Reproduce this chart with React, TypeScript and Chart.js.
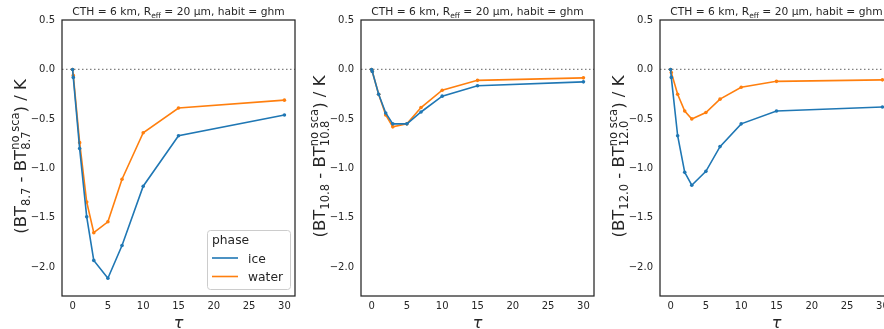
import React, { useEffect, useRef } from 'react';
import { Chart, registerables } from 'chart.js';

Chart.register(...registerables);

// ---- data ----
const TAU = [0, 0.1, 1, 2, 3, 5, 7, 10, 15, 30];

const ICE_87 = [0, -0.08, -0.8, -1.49, -1.93, -2.11, -1.78, -1.18, -0.67, -0.46];
const WATER_87 = [0, -0.06, -0.74, -1.34, -1.65, -1.54, -1.11, -0.64, -0.39, -0.31];

const ICE_108 = [0, -0.02, -0.25, -0.44, -0.55, -0.55, -0.43, -0.27, -0.165, -0.125];
const WATER_108 = [0, -0.02, -0.25, -0.46, -0.58, -0.55, -0.385, -0.21, -0.11, -0.085];

const ICE_120 = [0, -0.08, -0.67, -1.04, -1.17, -1.03, -0.78, -0.55, -0.42, -0.38];
const WATER_120 = [0, -0.03, -0.25, -0.42, -0.5, -0.435, -0.3, -0.18, -0.12, -0.105];

const X_TICKS = [0, 5, 10, 15, 20, 25, 30];
const Y_TICKS = [0.5, 0, -0.5, -1, -1.5, -2];
const X_MIN = -1.5;
const X_MAX = 31.5;
const Y_MIN = -2.29;
const Y_MAX = 0.5;

const BANDS = ['8.7', '10.8', '12.0'];
const SERIES_NAMES = ['ice', 'water'];
const LEGEND_TITLE = 'phase';
const TITLE_A = 'CTH = 6 km, R';
const TITLE_SUB = 'eff';
const TITLE_B = ' = 20 \u03bcm, habit = ghm';
const X_LABEL = '\u03c4';

// ---- style ----
const FONT = "'DejaVu Sans', sans-serif";
const INK = '#262626';
const ICE_COLOR = '#1f77b4';
const WATER_COLOR = '#ff7f0e';

const fmtY = (v: number) => {
  const s = Number(v).toFixed(1);
  return s.startsWith('-') ? '\u2212' + s.slice(1) : s;
};

function toPoints(ys: number[]) {
  return TAU.map((x, i) => ({ x, y: ys[i] }));
}

function drawPieces(ctx: CanvasRenderingContext2D, pieces: any[], x0: number, y0: number) {
  let x = x0;
  for (const p of pieces) {
    if (p.stack) {
      let w = 0;
      for (const s of p.stack) {
        ctx.font = `${s.size}px ${FONT}`;
        ctx.fillText(s.text, x, y0 + s.dy);
        w = Math.max(w, ctx.measureText(s.text).width);
      }
      x += w;
    } else {
      ctx.font = `${p.size}px ${FONT}`;
      ctx.fillText(p.text, x, y0 + p.dy);
      x += ctx.measureText(p.text).width;
    }
  }
}

function measurePieces(ctx: CanvasRenderingContext2D, pieces: any[]) {
  let w = 0;
  for (const p of pieces) {
    if (p.stack) {
      let m = 0;
      for (const s of p.stack) {
        ctx.font = `${s.size}px ${FONT}`;
        m = Math.max(m, ctx.measureText(s.text).width);
      }
      w += m;
    } else {
      ctx.font = `${p.size}px ${FONT}`;
      w += ctx.measureText(p.text).width;
    }
  }
  return w;
}

function Panel({ band, ice, water, legend, left }: { band: string; ice: number[]; water: number[]; legend: boolean; left: number }) {
  const ref = useRef<HTMLCanvasElement>(null);
  useEffect(() => {
    const deco = {
      id: 'deco',
      beforeDatasetsDraw(chart: any) {
        const { ctx, chartArea } = chart;
        const y0 = chart.scales.y.getPixelForValue(0);
        ctx.save();
        ctx.strokeStyle = '#808080';
        ctx.lineWidth = 1.2;
        ctx.setLineDash([1.5, 2.5]);
        ctx.beginPath();
        ctx.moveTo(chartArea.left, y0);
        ctx.lineTo(chartArea.right, y0);
        ctx.stroke();
        ctx.restore();
      },
      afterDraw(chart: any) {
        const { ctx, chartArea } = chart;
        const cx = (chartArea.left + chartArea.right) / 2;
        const cy = (chartArea.top + chartArea.bottom) / 2;
        ctx.save();
        // frame
        ctx.strokeStyle = INK;
        ctx.lineWidth = 1.25;
        ctx.strokeRect(chartArea.left, chartArea.top, chartArea.right - chartArea.left, chartArea.bottom - chartArea.top);
        ctx.fillStyle = INK;
        ctx.textBaseline = 'alphabetic';
        ctx.textAlign = 'left';
        // title
        const tPieces = [
          { text: TITLE_A, size: 10.7, dy: 0 },
          { text: TITLE_SUB, size: 7.5, dy: 2.5 },
          { text: TITLE_B, size: 10.7, dy: 0 },
        ];
        const tw = measurePieces(ctx, tPieces);
        drawPieces(ctx, tPieces, cx - tw / 2, 15);
        // x label
        ctx.font = `italic 16px ${FONT}`;
        ctx.textAlign = 'center';
        ctx.fillText(X_LABEL, cx, 328);
        ctx.textAlign = 'left';
        // y label (rotated)
        const yMain = 16.5;
        const ySub = 11.5;
        const yPieces = [
          { text: '(BT', size: yMain, dy: 0 },
          { text: band, size: ySub, dy: 3.5 },
          { text: ' - BT', size: yMain, dy: 0 },
          { stack: [ { text: 'no sca', size: ySub, dy: -7.5 }, { text: band, size: ySub, dy: 3.5 } ] },
          { text: ') / K', size: yMain, dy: 0 },
        ];
        const yw = measurePieces(ctx, yPieces);
        ctx.save();
        ctx.translate(26, cy - 1.5);
        ctx.rotate(-Math.PI / 2);
        drawPieces(ctx, yPieces, -yw / 2, 0);
        ctx.restore();
        // legend
        if (legend) {
          const bx = chartArea.right - 88;
          const by = chartArea.bottom - 66;
          const bw = 83;
          const bh = 59;
          ctx.fillStyle = 'rgba(255,255,255,0.8)';
          ctx.strokeStyle = '#cccccc';
          ctx.lineWidth = 1;
          ctx.beginPath();
          (ctx as any).roundRect(bx + 0.5, by + 0.5, bw, bh, 3);
          ctx.fill();
          ctx.stroke();
          ctx.fillStyle = INK;
          ctx.font = `12.3px ${FONT}`;
          ctx.fillText(LEGEND_TITLE, bx + 5, by + 14);
          const cols = [ICE_COLOR, WATER_COLOR];
          SERIES_NAMES.forEach((name, i) => {
            const ly = by + 28 + i * 18.5;
            ctx.strokeStyle = cols[i];
            ctx.lineWidth = 1.6;
            ctx.beginPath();
            ctx.moveTo(bx + 5, ly);
            ctx.lineTo(bx + 31, ly);
            ctx.stroke();
            ctx.fillStyle = INK;
            ctx.fillText(name, bx + 41, ly + 4.5);
          });
        }
        ctx.restore();
      },
    };

    const mk = (label: string, ys: number[], color: string) => ({
      label,
      data: toPoints(ys),
      borderColor: color,
      backgroundColor: color,
      borderWidth: 1.6,
      pointRadius: 1.8,
      pointBorderWidth: 0,
      pointBackgroundColor: color,
      tension: 0,
      fill: false,
    });

    const chart = new Chart(ref.current as HTMLCanvasElement, {
      type: 'line',
      data: {
        datasets: [mk(SERIES_NAMES[0], ice, ICE_COLOR), mk(SERIES_NAMES[1], water, WATER_COLOR)],
      },
      options: {
        responsive: false,
        maintainAspectRatio: false,
        animation: false,
        devicePixelRatio: 1,
        layout: { padding: { left: 0, right: 3, top: 20, bottom: 0 } },
        plugins: { legend: { display: false }, tooltip: { enabled: false }, title: { display: false } },
        scales: {
          x: {
            type: 'linear',
            min: X_MIN,
            max: X_MAX,
            grid: { display: false, drawTicks: false },
            border: { display: false },
            afterBuildTicks: (s: any) => { s.ticks = X_TICKS.map((v) => ({ value: v })); },
            afterFit: (s: any) => { s.height = 33; },
            ticks: {
              autoSkip: false,
              maxRotation: 0,
              padding: 4,
              color: INK,
              font: { family: FONT, size: 10 },
              callback: (v: any) => String(v),
            },
          },
          y: {
            type: 'linear',
            min: Y_MIN,
            max: Y_MAX,
            grid: { display: false, drawTicks: false },
            border: { display: false },
            afterBuildTicks: (s: any) => { s.ticks = Y_TICKS.map((v) => ({ value: v })); },
            afterFit: (s: any) => { s.width = 62; },
            ticks: {
              autoSkip: false,
              padding: 7,
              color: INK,
              font: { family: FONT, size: 10 },
              callback: (v: any) => fmtY(v),
            },
          },
        },
      },
      plugins: [deco],
    } as any);
    return () => chart.destroy();
  }, []);
  return (
    <canvas
      ref={ref}
      width={299}
      height={329}
      style={{ position: 'absolute', left, top: 0, width: 299, height: 329, display: 'block' }}
    />
  );
}

export default function App() {
  return (
    <div style={{ position: 'fixed', left: 0, top: 0, width: 884, height: 329, overflow: 'hidden', background: '#fff' }}>
      <Panel band={BANDS[0]} ice={ICE_87} water={WATER_87} legend={true} left={0} />
      <Panel band={BANDS[1]} ice={ICE_108} water={WATER_108} legend={false} left={299} />
      <Panel band={BANDS[2]} ice={ICE_120} water={WATER_120} legend={false} left={598} />
    </div>
  );
}
